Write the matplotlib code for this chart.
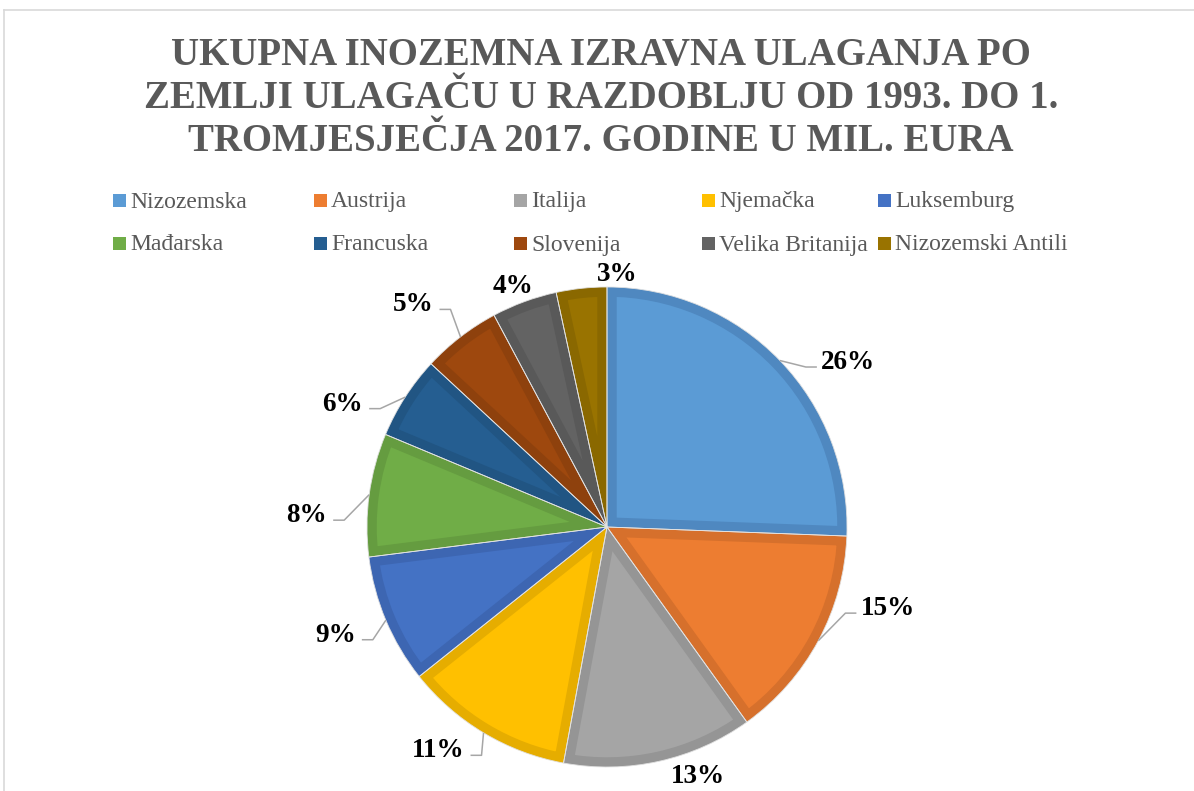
import matplotlib
matplotlib.use("Agg")
import matplotlib.pyplot as plt
from matplotlib.patches import Rectangle
import numpy as np

# ---------------- data ----------------
countries = ["Nizozemska", "Austrija", "Italija", "Njemačka", "Luksemburg",
             "Mađarska", "Francuska", "Slovenija", "Velika Britanija", "Nizozemski Antili"]
shares = [25.6, 14.5, 12.8, 11.4, 8.7, 8.3, 5.6, 5.3, 4.4, 3.4]
fill_colors = ["#5B9BD5", "#ED7D31", "#A5A5A5", "#FFC000", "#4472C4",
               "#70AD47", "#255E91", "#9E480E", "#636363", "#997300"]
edge_colors = ["#4F88C0", "#D6702C", "#959595", "#E6AD00", "#3D66B2",
               "#659C40", "#215583", "#8E410D", "#595959", "#8A6800"]
title_lines = ["UKUPNA INOZEMNA IZRAVNA ULAGANJA PO",
               "ZEMLJI ULAGAČU U RAZDOBLJU OD 1993. DO 1.",
               "TROMJESJEČJA 2017. GODINE U MIL. EURA"]

# ---------------- layout (pixels) ----------------
W, H = 1194, 791
CX, CY, R = 607, 527, 240          # pie centre (pixel, y down) and radius
# label offsets from rim point at mid-angle (dx, dy in px, y down), alignment, leader
label_offsets = [(41, -1), (42, -35), (39, 12), (-19, 15), (-30, 12),
                 (-42, 18), (-42, 4), (-27, -35), (-11, -18), (36, -17)]
label_ha = ["left", "left", "center", "right", "right",
            "right", "right", "right", "center", "center"]
label_leader = [True, True, False, True, True, True, True, True, False, False]
legend_x = [113, 314, 514, 702, 878]
legend_y = [200, 243]

fig = plt.figure(figsize=(W / 100, H / 100), dpi=100)
ax = fig.add_axes([0, 0, 1, 1])

def Y(yp):
    return H - yp

wedges, _ = ax.pie(shares, startangle=90, counterclock=False,
                   center=(CX, Y(CY)), radius=R)
for w, fc, ec in zip(wedges, fill_colors, edge_colors):
    w.set_facecolor(fc)
    w.set_edgecolor(ec)
    w.set_linewidth(14.0)
    w.set_joinstyle("miter")
    w.set_clip_on(True)
    w.set_clip_path(w)

# thin separators
sep, _ = ax.pie(shares, startangle=90, counterclock=False,
                center=(CX, Y(CY)), radius=R,
                wedgeprops=dict(facecolor="none", edgecolor="#E2E2E2", linewidth=0.6))

ax.set_xlim(0, W)
ax.set_ylim(0, H)
ax.set_aspect("auto")
ax.axis("off")

# ---------------- percentage labels ----------------
total = float(sum(shares))
cum = 0.0
for i, v in enumerate(shares):
    mid = (cum + v / 2) / total * 2 * np.pi
    cum += v
    rx = CX + R * np.sin(mid)
    ry = CY - R * np.cos(mid)
    dx, dy = label_offsets[i]
    tx, ty = rx + dx, ry + dy
    txt = f"{int(v + 0.5)}%"
    ax.text(tx, Y(ty + 9.5), txt, ha=label_ha[i], va="baseline",
            fontsize=19.5, fontweight="bold", family="Liberation Serif", color="black")
    if label_leader[i]:
        ly = ty + 7.5
        if label_ha[i] == "left":
            end_x = tx - 4
            elbow_x = end_x - 11
        else:
            end_x = tx + 6
            elbow_x = end_x + 11
        ax.plot([rx, elbow_x, end_x], [Y(ry), Y(ly), Y(ly)],
                color="#A6A6A6", lw=1.1, solid_capstyle="butt")

# ---------------- title ----------------
for line, base in zip(title_lines, [65, 108, 151]):
    ax.text(601, Y(base), line, ha="center", va="baseline",
            fontsize=28, fontweight="bold", family="Liberation Serif", color="#595959")

# ---------------- legend ----------------
for i, name in enumerate(countries):
    row, col = divmod(i, 5)
    x0 = legend_x[col]
    yc = legend_y[row]
    ax.add_patch(Rectangle((x0, Y(yc + 6.5)), 13, 13, facecolor=fill_colors[i],
                           edgecolor="none"))
    ax.text(x0 + 17, Y(yc + 7.5), name, ha="left", va="baseline",
            fontsize=17, family="Liberation Serif", color="#595959")

# ---------------- frame ----------------
ax.plot([4, W], [Y(9.5), Y(9.5)], color="#D9D9D9", lw=1.2)
ax.plot([4, 4], [Y(9.5), 0], color="#D9D9D9", lw=1.2)

fig.savefig("out.png", dpi=100)
